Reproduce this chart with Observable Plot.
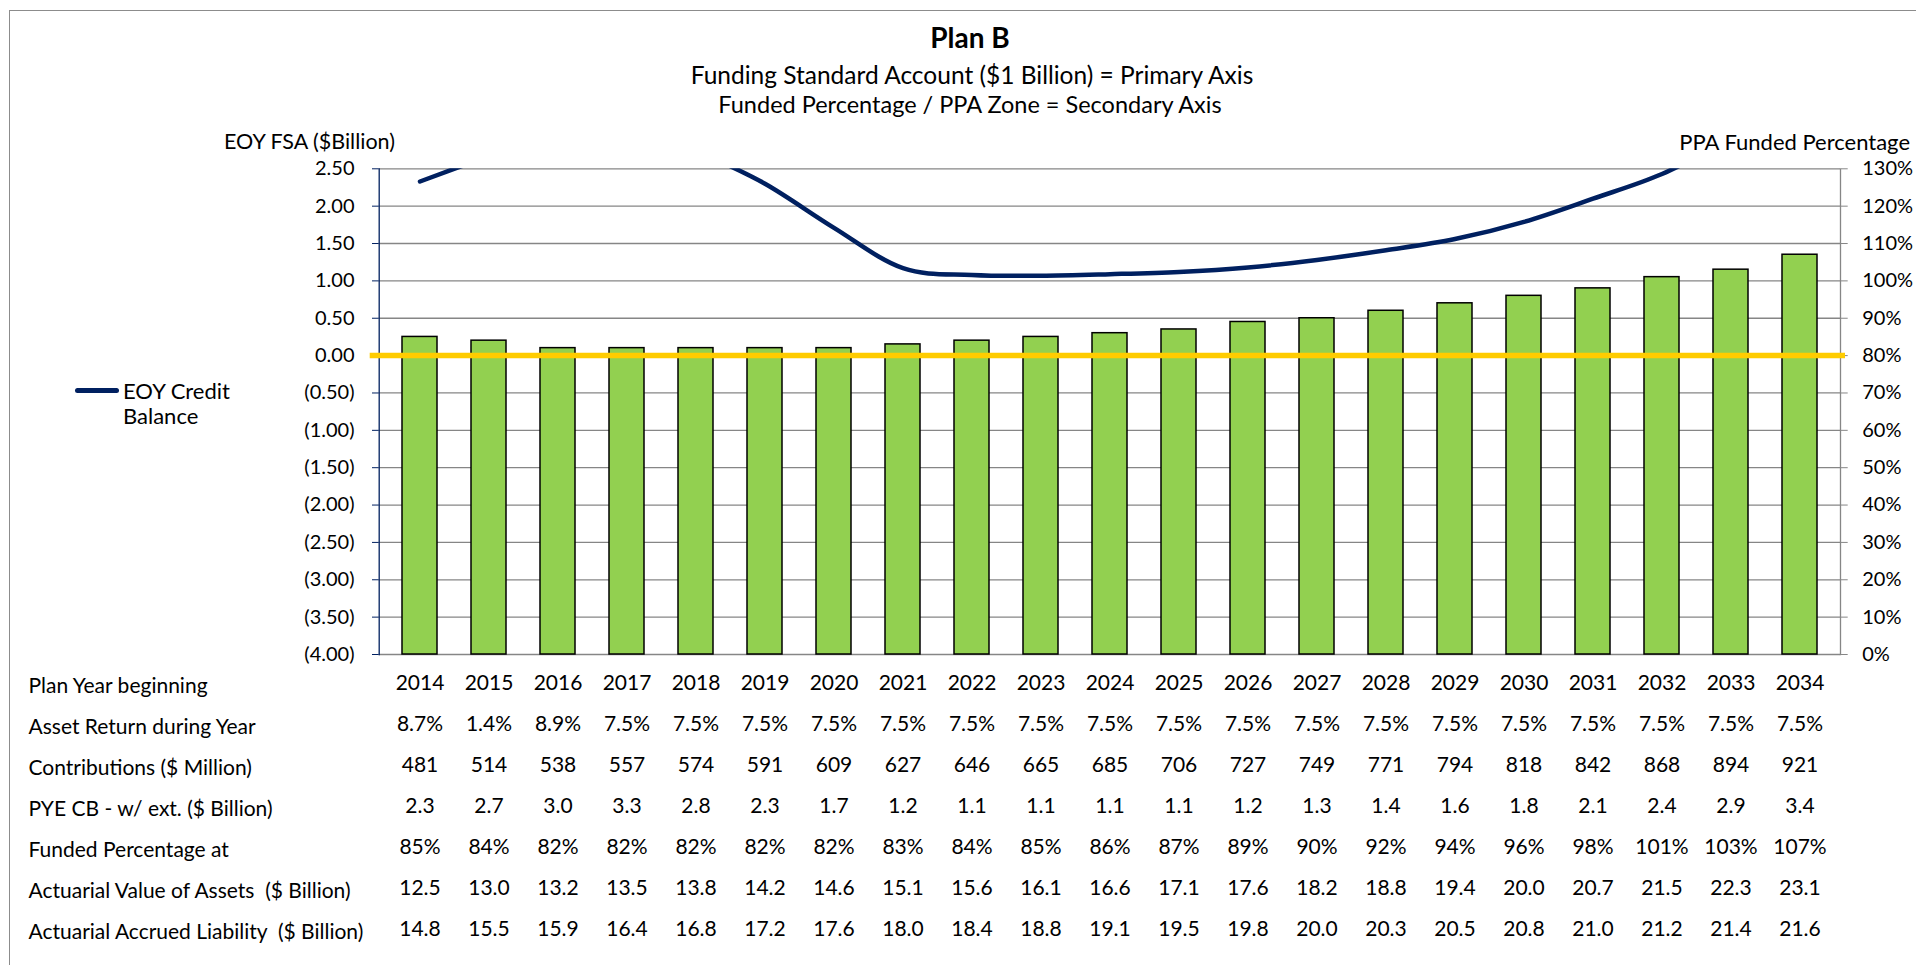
<!DOCTYPE html>
<html><head><meta charset="utf-8">
<script src="https://cdn.jsdelivr.net/npm/d3@7"></script>
<script src="https://cdn.jsdelivr.net/npm/@observablehq/plot@0.6"></script>
<style>
html,body{margin:0;padding:0;background:#fff;overflow:hidden;}
body{width:1916px;height:965px;position:relative;font-family:Lato,sans-serif;color:#000;}
.abs{position:absolute;white-space:nowrap;line-height:1;}
#frame{position:absolute;left:9px;top:10px;width:1930px;height:1000px;border:1px solid #8c8c8c;}
.layer{position:absolute;left:0;}
</style></head><body>
<div id="frame"></div>
<div id="root"></div>
<script>
// ---------- data ----------
const years = [2014,2015,2016,2017,2018,2019,2020,2021,2022,2023,2024,2025,2026,2027,2028,2029,2030,2031,2032,2033,2034];
const creditBalance = [2.33,2.67,3.0,3.3,2.76,2.30,1.71,1.17,1.08,1.07,1.09,1.12,1.18,1.28,1.41,1.56,1.79,2.10,2.43,2.9,3.4];
const fundedPct = [85,84,82,82,82,82,82,83,84,85,86,87,89,90,92,94,96,98,101,103,107];
const ppaZone = 80;
const assetReturn = [8.7,1.4,8.9,7.5,7.5,7.5,7.5,7.5,7.5,7.5,7.5,7.5,7.5,7.5,7.5,7.5,7.5,7.5,7.5,7.5,7.5];
const contributions = [481,514,538,557,574,591,609,627,646,665,685,706,727,749,771,794,818,842,868,894,921];
const pyeCB = [2.3,2.7,3.0,3.3,2.8,2.3,1.7,1.2,1.1,1.1,1.1,1.1,1.2,1.3,1.4,1.6,1.8,2.1,2.4,2.9,3.4];
const actuarialAssets = [12.5,13.0,13.2,13.5,13.8,14.2,14.6,15.1,15.6,16.1,16.6,17.1,17.6,18.2,18.8,19.4,20.0,20.7,21.5,22.3,23.1];
const accruedLiability = [14.8,15.5,15.9,16.4,16.8,17.2,17.6,18.0,18.4,18.8,19.1,19.5,19.8,20.0,20.3,20.5,20.8,21.0,21.2,21.4,21.6];
const primaryTicks = [-4,-3.5,-3,-2.5,-2,-1.5,-1,-0.5,0,0.5,1,1.5,2,2.5];
const secondaryTicks = [0,10,20,30,40,50,60,70,80,90,100,110,120,130];
const rowLabels = ["Plan Year beginning","Asset Return during Year","Contributions ($ Million)","PYE CB - w/ ext. ($ Billion)","Funded Percentage at","Actuarial Value of Assets  ($ Billion)","Actuarial Accrued Liability  ($ Billion)"];
const titleText = "Plan B";
const subtitle1 = "Funding Standard Account ($1 Billion) = Primary Axis";
const subtitle2 = "Funded Percentage / PPA Zone = Secondary Axis";
const leftAxisTitle = "EOY FSA ($Billion)";
const rightAxisTitle = "PPA Funded Percentage";
const seriesName = "EOY Credit Balance";

// ---------- layout ----------
const W = 1916, ML = 378.7, MR = 76, MT = 168.3, PB = 654, MB = 12;
const H = PB + MB;
const FONT = "Lato, sans-serif";
const FS = 21, TICK_FS = 20;
const NAVY = "#002060", GRID = "#868686";
const xScale = {type:"band", domain: years, paddingInner: 0.493, paddingOuter: 0.2465, axis: null};
const root = document.getElementById("root");

function addText(txt, css){
  const d = document.createElement("div");
  d.className = "abs"; d.textContent = txt;
  Object.assign(d.style, css);
  root.appendChild(d); return d;
}
function layer(svg, top){
  svg.classList.add("layer");
  svg.style.top = top + "px";
  root.appendChild(svg);
}
const fmtPrimary = v => v < 0 ? "(" + Math.abs(v).toFixed(2) + ")" : v.toFixed(2);

const rows = years.map((y,i)=>({year:y, cb: creditBalance[i], pct: fundedPct[i]}));

// Layer A: gridlines and primary axis
layer(Plot.plot({
  width: W, height: H, marginLeft: ML, marginRight: MR, marginTop: MT, marginBottom: MB,
  style: {fontFamily: FONT, fontSize: TICK_FS + "px", background: "transparent", overflow: "visible"},
  x: xScale,
  y: {domain: [-4, 2.5]},
  marks: [
    Plot.gridY(primaryTicks, {stroke: GRID, strokeOpacity: 1, strokeWidth: 1.3}),
    Plot.axisY(primaryTicks, {anchor: "left", tickFormat: fmtPrimary, tickSize: 6.7, tickPadding: 18, stroke: NAVY, fill: "#000", label: null, fontSize: TICK_FS}),
    Plot.frame({anchor: "left", stroke: NAVY, strokeWidth: 1.3})
  ]
}), 0);

// Layer B: bars, PPA zone, secondary axis
layer(Plot.plot({
  width: W, height: H, marginLeft: ML, marginRight: MR, marginTop: MT, marginBottom: MB,
  style: {fontFamily: FONT, fontSize: TICK_FS + "px", background: "transparent", overflow: "visible"},
  x: xScale,
  y: {domain: [0, 130]},
  marks: [
    Plot.frame({anchor: "right", stroke: GRID, strokeWidth: 1.3}),
    Plot.axisY(secondaryTicks, {anchor: "right", tickFormat: d => d + "%", tickSize: 6.7, tickPadding: 15, stroke: GRID, fill: "#000", label: null, fontSize: TICK_FS}),
    Plot.barY(rows, {x: "year", y: "pct", fill: "#92D050", stroke: "#000", strokeWidth: 1.5}),
    Plot.ruleY([ppaZone], {stroke: "#FFCC00", strokeWidth: 5.5, insetLeft: -9, insetRight: -5})
  ]
}), 0);

// Layer C: credit balance line
layer(Plot.plot({
  width: W, height: H, marginLeft: ML, marginRight: MR, marginTop: MT, marginBottom: MB,
  style: {fontFamily: FONT, background: "transparent"},
  x: xScale,
  y: {domain: [-4, 2.5], axis: null},
  marks: [
    Plot.line(rows, {x: "year", y: "cb", stroke: NAVY, strokeWidth: 4.5, curve: "cardinal", tension: 0, strokeLinecap: "round", strokeLinejoin: "round", clip: true})
  ]
}), 0);

// Data table below the chart
const fmt1 = v => v.toFixed(1);
const tableRows = [
  [rowLabels[0], years, v => String(v)],
  [rowLabels[1], assetReturn, v => v.toFixed(1) + "%"],
  [rowLabels[2], contributions, v => String(v)],
  [rowLabels[3], pyeCB, fmt1],
  [rowLabels[4], fundedPct, v => v + "%"],
  [rowLabels[5], actuarialAssets, fmt1],
  [rowLabels[6], accruedLiability, fmt1]
];
const cells = tableRows.flatMap(([label, vals, f]) => vals.map((v, i) => ({year: years[i], row: label, text: f(v)})));
const RH = 41, TT = 660, TMT = 5;
layer(Plot.plot({
  width: W, height: TMT + RH * rowLabels.length + 6, marginLeft: ML, marginRight: MR, marginTop: TMT, marginBottom: 6,
  style: {fontFamily: FONT, fontSize: FS + "px", background: "transparent", overflow: "visible"},
  x: xScale,
  y: {type: "band", domain: rowLabels, padding: 0, axis: null},
  marks: [
    Plot.axisY(rowLabels, {anchor: "left", tickSize: 0, tickPadding: ML - 28, textAnchor: "start", label: null, fontSize: FS, fill: "#000"}),
    Plot.text(cells, {x: "year", y: "row", text: "text", dy: -3, fontSize: FS, fill: "#000"})
  ]
}), TT);

// Titles, axis titles, legend
addText(titleText, {left: "970px", top: "37px", transform: "translate(-50%,-50%)", fontWeight: "bold", fontSize: "28px"});
addText(subtitle1, {left: "972px", top: "75px", transform: "translate(-50%,-50%)", fontSize: "24.5px"});
addText(subtitle2, {left: "970px", top: "105px", transform: "translate(-50%,-50%)", fontSize: "23.5px"});
addText(leftAxisTitle, {left: "224px", top: "142px", transform: "translate(0,-50%)", fontSize: "21.5px"});
addText(rightAxisTitle, {left: "1910px", top: "142px", transform: "translate(-100%,-50%)", fontSize: "22px"});

// legend
const sw = document.createElement("div");
Object.assign(sw.style, {position: "absolute", left: "75px", top: "388px", width: "44px", height: "4.5px", background: NAVY, borderRadius: "3px"});
root.appendChild(sw);
const words = seriesName.split(" ");
addText(words.slice(0, 2).join(" "), {left: "123px", top: "391px", transform: "translate(0,-50%)", fontSize: "22px"});
addText(words.slice(2).join(" "), {left: "123px", top: "416px", transform: "translate(0,-50%)", fontSize: "22px"});
</script>
</body></html>
